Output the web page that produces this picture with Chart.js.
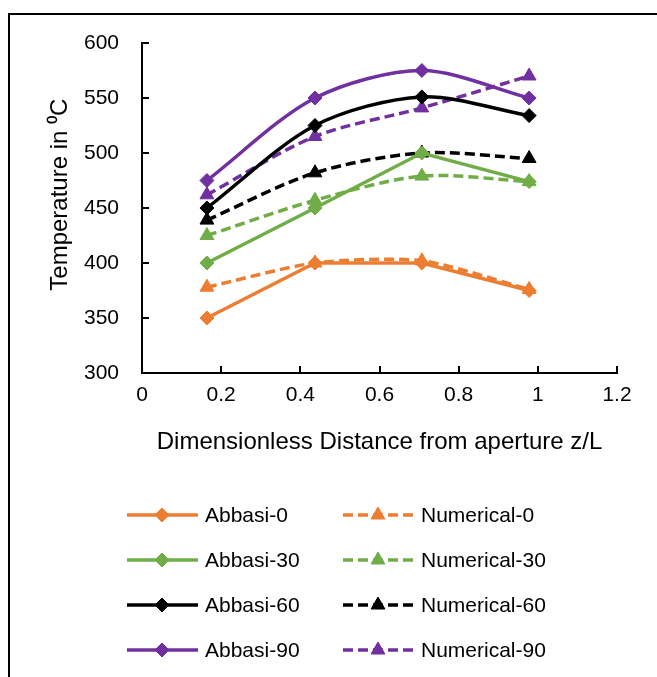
<!DOCTYPE html>
<html>
<head>
<meta charset="utf-8">
<style>
body { margin: 0; background: #fff; overflow: hidden; }
#wrap { position: relative; width: 657px; height: 677px; }
#frame { position: absolute; left: 8px; top: 13px; width: 800px; height: 800px; border: 2px solid #000; box-sizing: border-box; pointer-events: none; }
</style>
</head>
<body>
<div id="wrap">
<canvas id="myChart" width="657" height="677"></canvas>
<div id="frame"></div>
</div>

<script src="https://cdn.jsdelivr.net/npm/chart.js"></script>
<script>
// positions along the tube (z/L)
var zPos = [0.164, 0.437, 0.707, 0.978];

var abbasi0 = [350, 400, 400, 375];
var numerical0 = [378, 400, 402, 376];
var abbasi30 = [400, 450, 500, 474];
var numerical30 = [425, 457, 479, 474];
var abbasi60 = [450, 525, 551, 534];
var numerical60 = [439, 482, 500, 495];
var abbasi90 = [475, 550, 575, 550];
var numerical90 = [462, 515, 541, 570];

var xTicks = [0, 0.2, 0.4, 0.6, 0.8, 1, 1.2];
var yTicks = [300, 350, 400, 450, 500, 550, 600];

var seriesNames = ["Abbasi-0", "Numerical-0", "Abbasi-30", "Numerical-30",
                   "Abbasi-60", "Numerical-60", "Abbasi-90", "Numerical-90"];
var seriesValues = [abbasi0, numerical0, abbasi30, numerical30,
                    abbasi60, numerical60, abbasi90, numerical90];
var colors = ["#ED7D31", "#ED7D31", "#70AD47", "#70AD47",
              "#000000", "#000000", "#7030A0", "#7030A0"];
var smooth = [0, 0.25, 0, 0.3, 0.3, 0.3, 0.3, 0.3];

var FONT = "'Liberation Sans', Arial, sans-serif";

function points(vals){
	var out = [];
	for(var i = 0; i < vals.length; i++){
		out.push({x: zPos[i], y: vals[i]});
	}
	return out;
}

var datasets = [];
for(var i = 0; i < seriesNames.length; i++){
	var numerical = (i % 2 == 1);
	datasets.push({
		label: seriesNames[i],
		data: points(seriesValues[i]),
		borderColor: colors[i],
		backgroundColor: colors[i],
		borderWidth: 3.5,
		borderDash: numerical ? [10, 5] : [],
		tension: smooth[i],
		pointStyle: numerical ? 'triangle' : 'rectRot',
		pointRadius: numerical ? 8 : 7,
		pointBorderWidth: 1,
		pointHoverRadius: 8
	});
}

// Excel style tick marks pointing into the plot
var innerTicks = {
	id: 'innerTicks',
	afterDatasetsDraw: function(chart){
		var ctx = chart.ctx;
		var area = chart.chartArea;
		ctx.save();
		ctx.strokeStyle = '#000';
		ctx.lineWidth = 2;
		ctx.beginPath();
		for(var v of yTicks){
			var y = Math.round(chart.scales.y.getPixelForValue(v));
			ctx.moveTo(area.left, y);
			ctx.lineTo(area.left + 7, y);
		}
		for(var v of xTicks){
			var x = Math.round(chart.scales.x.getPixelForValue(v));
			ctx.moveTo(x, area.bottom);
			ctx.lineTo(x, area.bottom - 7);
		}
		ctx.stroke();
		ctx.restore();
	}
};

// legend: two columns, line with marker in the middle
var lineLegend = {
	id: 'lineLegend',
	afterDraw: function(chart){
		var ctx = chart.ctx;
		var colX = [127, 343];
		var rowY = [515, 560, 605, 650];
		ctx.save();
		for(var i = 0; i < chart.data.datasets.length; i++){
			var ds = chart.data.datasets[i];
			var x0 = colX[i % 2];
			var y = rowY[Math.floor(i / 2)];
			ctx.strokeStyle = ds.borderColor;
			ctx.fillStyle = ds.backgroundColor;
			ctx.lineWidth = 3.5;
			ctx.setLineDash(ds.borderDash);
			ctx.beginPath();
			ctx.moveTo(x0, y);
			ctx.lineTo(x0 + 71, y);
			ctx.stroke();
			ctx.setLineDash([]);
			ctx.lineWidth = 1;
			Chart.helpers.drawPoint(ctx, {pointStyle: ds.pointStyle, radius: ds.pointRadius, rotation: 0, borderWidth: 1}, x0 + 35, y);
			ctx.fillStyle = '#000';
			ctx.font = '21px ' + FONT;
			ctx.textBaseline = 'middle';
			ctx.textAlign = 'left';
			ctx.fillText(ds.label, x0 + 78, y + 1);
		}
		ctx.restore();
	}
};

var ctx = document.getElementById('myChart').getContext('2d');
var myChart = new Chart(ctx, {
	type: 'line',
	data: { datasets: datasets },
	plugins: [innerTicks, lineLegend],
	options: {
		animation: false,
		responsive: false,
		layout: { padding: { left: 40, top: 43, right: 40, bottom: 214 } },
		plugins: {
			legend: { display: false },
			tooltip: { enabled: false }
		},
		scales: {
			x: {
				type: 'linear',
				min: 0,
				max: 1.2,
				afterBuildTicks: function(scale){ scale.ticks = xTicks.map(function(v){ return {value: v}; }); },
				afterFit: function(scale){ scale.height = 90; },
				grid: { display: true, drawOnChartArea: false, drawTicks: false },
				border: { display: true, color: '#000', width: 2 },
				ticks: {
					color: '#000', padding: 10, font: { family: FONT, size: 21 },
					callback: function(v){ return String(v); }
				},
				title: {
					display: true,
					text: 'Dimensionless Distance from aperture z/L',
					color: '#000',
					font: { family: FONT, size: 24 },
					padding: { top: 0, bottom: 6 }
				}
			},
			y: {
				min: 300,
				max: 600,
				afterBuildTicks: function(scale){ scale.ticks = yTicks.map(function(v){ return {value: v}; }); },
				afterFit: function(scale){ scale.width = 102; },
				grid: { display: true, drawOnChartArea: false, drawTicks: false },
				border: { display: true, color: '#000', width: 2 },
				ticks: { color: '#000', padding: 23, font: { family: FONT, size: 21 } },
				title: {
					display: true,
					text: '\u00a0\u00a0\u00a0\u00a0Temperature in \u2070C',
					color: '#000',
					font: { family: FONT, size: 24 },
					padding: { top: 6, bottom: 0 }
				}
			}
		}
	}
});
</script>
</body>
</html>
